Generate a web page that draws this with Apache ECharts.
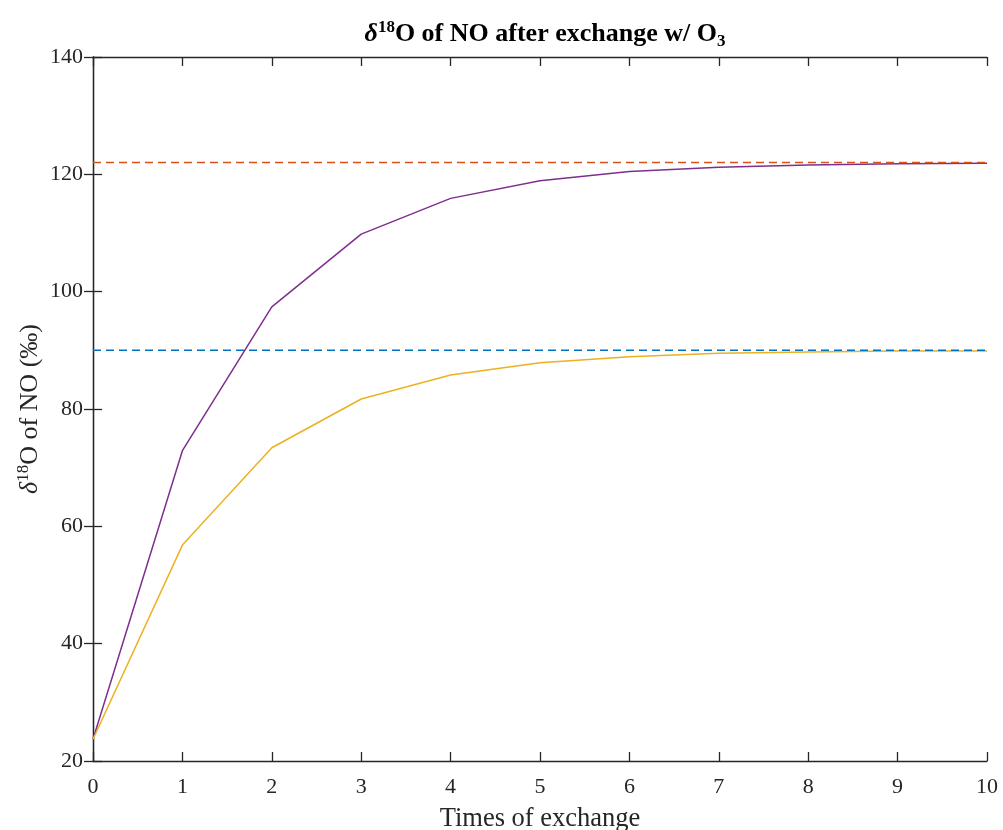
<!DOCTYPE html>
<html><head><meta charset="utf-8">
<script src="https://cdn.jsdelivr.net/npm/echarts@6/dist/echarts.min.js"></script>
<style>html,body{margin:0;padding:0;background:#fff}#c{width:1003px;height:830px}</style>
</head><body><div id="c"></div>
<script>
const xValues = [0, 1, 2, 3, 4, 5, 6, 7, 8, 9, 10];
const purpleValues = [23.7, 72.9, 97.4, 109.8, 115.9, 118.9, 120.5, 121.2, 121.6, 121.8, 121.9];
const yellowValues = [23.7, 56.8, 73.4, 81.7, 85.8, 87.9, 88.9, 89.5, 89.7, 89.9, 89.9];
const redLevel = 122;
const blueLevel = 90;
const xTicks = [0,1,2,3,4,5,6,7,8,9,10];
const yTicks = [20,40,60,80,100,120,140];

const FONT = '"Liberation Serif", "Times New Roman", serif';
const AX = '#262626';
const pair = (xs, ys) => xs.map((x, i) => [x, ys[i]]);

const chart = echarts.init(document.getElementById('c'), null, {renderer: 'canvas'});
const axisBase = {
  axisLine: {show: true, lineStyle: {color: AX, width: 1.3}},
  axisTick: {show: true, inside: true, length: 9, lineStyle: {color: AX, width: 1.3}},
  splitLine: {show: false}
};
chart.setOption({
  animation: false,
  backgroundColor: '#fff',
  title: {
    text: '{d|δ}{s|18}{t|O of NO after exchange w/ O}{b|3}',
    left: 540, top: 13, textAlign: 'center',
    textStyle: {
      rich: {
        d: {fontFamily: FONT, fontSize: 26, fontWeight: 'bold', fontStyle: 'italic', color: '#000', lineHeight: 32},
        s: {fontFamily: FONT, fontSize: 17, fontWeight: 'bold', color: '#000', padding: [0,0,13,0], lineHeight: 32},
        t: {fontFamily: FONT, fontSize: 26, fontWeight: 'bold', color: '#000', lineHeight: 32},
        b: {fontFamily: FONT, fontSize: 17, fontWeight: 'bold', color: '#000', padding: [16,0,0,0], lineHeight: 32}
      }
    }
  },
  grid: {left: 93, right: 16, top: 57, bottom: 69, containLabel: false, outerBoundsMode: 'none'},
  xAxis: [
    Object.assign({}, axisBase, {
      type: 'value', min: 0, max: 10, interval: 1, position: 'bottom',
      axisLabel: {fontFamily: FONT, fontSize: 22, color: AX, margin: 15,
        customValues: xTicks},
      axisTick: Object.assign({}, axisBase.axisTick, {customValues: xTicks}),
      name: 'Times of exchange', nameLocation: 'middle', nameGap: 45, nameMoveOverlap: false,
      nameTextStyle: {fontFamily: FONT, fontSize: 26.5, color: AX}
    }),
    Object.assign({}, axisBase, {
      type: 'value', min: 0, max: 10, interval: 1, position: 'top',
      axisLabel: {show: false}
    })
  ],
  yAxis: [
    Object.assign({}, axisBase, {
      type: 'value', min: 20, max: 140, interval: 20, position: 'left',
      axisLabel: {fontFamily: FONT, fontSize: 22, color: AX, margin: 10,
        customValues: yTicks},
      axisTick: Object.assign({}, axisBase.axisTick, {customValues: yTicks}),
      name: '{d|δ}{s|18}{t|O of NO (‰)}', nameLocation: 'middle', nameGap: 47, nameRotate: 90,
      nameMoveOverlap: false,
      nameTextStyle: {
        rich: {
          d: {fontFamily: FONT, fontSize: 26, fontStyle: 'italic', color: AX, lineHeight: 32},
          s: {fontFamily: FONT, fontSize: 17, color: AX, padding: [0,0,13,0], lineHeight: 32},
          t: {fontFamily: FONT, fontSize: 26, color: AX, lineHeight: 32}
        }
      }
    }),
    Object.assign({}, axisBase, {
      type: 'value', min: 20, max: 140, interval: 20, position: 'right',
      axisLabel: {show: false}
    })
  ],
  series: [
    {type: 'line', data: pair(xValues, purpleValues), symbol: 'none',
      lineStyle: {color: '#7E2F8E', width: 1.5}, z: 3},
    {type: 'line', data: pair(xValues, yellowValues), symbol: 'none',
      lineStyle: {color: '#EDB120', width: 1.5}, z: 3},
    {type: 'line', data: [[xValues[0], redLevel], [xValues[xValues.length-1], redLevel]], symbol: 'none',
      lineStyle: {color: '#D95319', width: 1.5, type: [8, 5]}, z: 4},
    {type: 'line', data: [[xValues[0], blueLevel], [xValues[xValues.length-1], blueLevel]], symbol: 'none',
      lineStyle: {color: '#0072BD', width: 1.5, type: [8, 5]}, z: 4}
  ]
});
</script></body></html>
